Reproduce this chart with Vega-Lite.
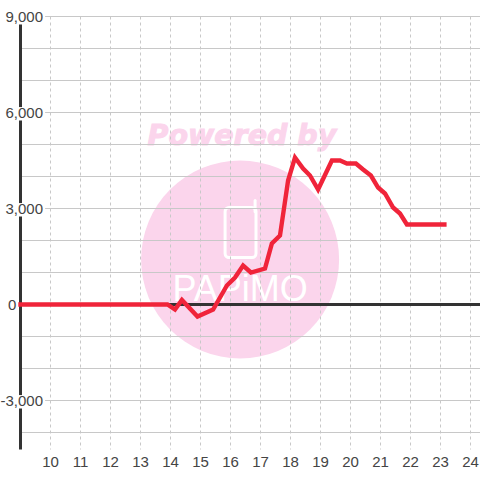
{"$schema":"https://vega.github.io/schema/vega-lite/v6.json","width":459.5,"height":433,"autosize":{"type":"none"},"padding":{"left":20.5,"top":16.5,"right":0,"bottom":30.5},"background":"white","config":{"view":{"stroke":null},"font":"Liberation Sans"},
"datasets":{
"line":[{"h":9,"v":0},{"h":13.9,"v":0},{"h":14.15,"v":-156},{"h":14.38,"v":140},{"h":14.9,"v":-375},{"h":15.42,"v":-156},{"h":15.88,"v":594},{"h":16.15,"v":844},{"h":16.42,"v":1219},{"h":16.68,"v":1000},{"h":17.15,"v":1125},{"h":17.38,"v":1906},{"h":17.65,"v":2156},{"h":17.92,"v":3875},{"h":18.15,"v":4594},{"h":18.42,"v":4250},{"h":18.65,"v":4031},{"h":18.92,"v":3594},{"h":19.38,"v":4500},{"h":19.65,"v":4500},{"h":19.88,"v":4406},{"h":20.18,"v":4406},{"h":20.42,"v":4219},{"h":20.68,"v":4031},{"h":20.92,"v":3656},{"h":21.15,"v":3469},{"h":21.42,"v":3031},{"h":21.65,"v":2844},{"h":21.88,"v":2500},{"h":23.13,"v":2500}],
"hgrid":[{"v":9000},{"v":8000},{"v":7000},{"v":6000},{"v":5000},{"v":4000},{"v":3000},{"v":2000},{"v":1000},{"v":-1000},{"v":-2000},{"v":-3000},{"v":-4000}],
"vgrid":[{"h":10},{"h":11},{"h":12},{"h":13},{"h":14},{"h":15},{"h":16},{"h":17},{"h":18},{"h":19},{"h":20},{"h":21},{"h":22},{"h":23},{"h":24}],
"labelbg":[{"x0":8.85,"x1":9.82,"y0":9250,"y1":8750},{"x0":8.85,"x1":9.82,"y0":6170,"y1":5750},{"x0":8.85,"x1":9.82,"y0":3170,"y1":2750},{"x0":8.85,"x1":9.82,"y0":-2830,"y1":-3250}]},
"data":{"name":"line"},
"layer":[
{"data":{"values":[{"h":16.32,"v":1406}]},"mark":{"type":"point","filled":true,"size":39204,"color":"#fbd5ec","opacity":1},"encoding":{"x":{"field":"h","type":"quantitative","scale":{"domain":[9,24.317],"nice":false,"zero":false},
"axis":{"values":[10,11,12,13,14,15,16,17,18,19,20,21,22,23,24],"title":null,"grid":false,"domain":false,"ticks":false,"labels":false}},
"y":{"field":"v","type":"quantitative","scale":{"domain":[-4531,9000],"nice":false,"zero":false},
"axis":{"values":[9000,6000,3000,-3000],"title":null,"grid":false,"domain":false,"ticks":false,"labelFontSize":15,"labelColor":"#444","labelPadding":2,"offset":-24,"labelFont":"Liberation Sans","labelOverlap":false,"labelFlush":false,"orient":"left","labelExpr":"replace(format(datum.value,','),'−','-')","zindex":1}}}},
{"data":{"values":[{"h":16.38,"v":5281,"t":"Powered by"}]},"mark":{"type":"text","fontSize":28.5,"fontWeight":"bold","fontStyle":"italic","font":"DejaVu Sans","color":"#fbd5ec","stroke":"#fbd5ec","strokeWidth":1,"align":"center","baseline":"middle"},"encoding":{"x":{"field":"h","type":"quantitative"},"y":{"field":"v","type":"quantitative"},"text":{"field":"t"}}},
{"data":{"values":[{"x0":15.82,"x1":16.85,"y0":3031,"y1":1469}]},"mark":{"type":"rect","fill":null,"stroke":"white","strokeWidth":3,"cornerRadius":4},"encoding":{"x":{"field":"x0","type":"quantitative"},"x2":{"field":"x1"},"y":{"field":"y0","type":"quantitative"},"y2":{"field":"y1"}}},
{"data":{"values":[{"h":16.82,"v":3250},{"h":16.82,"v":2900}]},"mark":{"type":"line","stroke":"white","strokeWidth":3,"strokeCap":"round"},"encoding":{"x":{"field":"h","type":"quantitative"},"y":{"field":"v","type":"quantitative"}}},
{"data":{"values":[{"h":16.32,"v":450,"t":"PAPiMO"}]},"mark":{"type":"text","fontSize":36,"font":"Liberation Sans","color":"white","align":"center","baseline":"middle"},"encoding":{"x":{"field":"h","type":"quantitative"},"y":{"field":"v","type":"quantitative"},"text":{"field":"t"}}},
{"data":{"name":"hgrid"},"mark":{"type":"rule","color":"#c8c8c8","strokeWidth":1},"encoding":{"y":{"field":"v","type":"quantitative"}}},
{"data":{"name":"vgrid"},"mark":{"type":"rule","color":"#c8c8c8","strokeWidth":1,"strokeDash":[3,3]},"encoding":{"x":{"field":"h","type":"quantitative"}}},
{"data":{"values":[{"h":9}]},"mark":{"type":"rule","color":"#333333","strokeWidth":3},"encoding":{"x":{"field":"h","type":"quantitative"}}},
{"data":{"values":[{"v":0}]},"mark":{"type":"rule","color":"#333333","strokeWidth":3},"encoding":{"y":{"field":"v","type":"quantitative"}}},
{"data":{"name":"labelbg"},"mark":{"type":"rect","fill":"white"},"encoding":{"x":{"field":"x0","type":"quantitative"},"x2":{"field":"x1"},"y":{"field":"y0","type":"quantitative"},"y2":{"field":"y1"}}},
{"data":{"values":[{"h":8.72,"v":0,"t":"0"}]},"mark":{"type":"text","fontSize":15,"font":"Liberation Sans","color":"#444","align":"center","baseline":"middle"},"encoding":{"x":{"field":"h","type":"quantitative"},"y":{"field":"v","type":"quantitative"},"text":{"field":"t"}}},
{"data":{"values":[{"h":10,"v":-4906},{"h":11,"v":-4906},{"h":12,"v":-4906},{"h":13,"v":-4906},{"h":14,"v":-4906},{"h":15,"v":-4906},{"h":16,"v":-4906},{"h":17,"v":-4906},{"h":18,"v":-4906},{"h":19,"v":-4906},{"h":20,"v":-4906},{"h":21,"v":-4906},{"h":22,"v":-4906},{"h":23,"v":-4906},{"h":24,"v":-4906}]},"mark":{"type":"text","fontSize":15,"font":"Liberation Sans","color":"#444","align":"center","baseline":"middle"},"encoding":{"x":{"field":"h","type":"quantitative"},"y":{"field":"v","type":"quantitative"},"text":{"field":"h","type":"quantitative","format":"d"}}},
{"mark":{"type":"line","color":"#f0243a","strokeWidth":4.4,"strokeJoin":"miter","strokeCap":"square"},"encoding":{"x":{"field":"h","type":"quantitative"},"y":{"field":"v","type":"quantitative"}}}
]}
